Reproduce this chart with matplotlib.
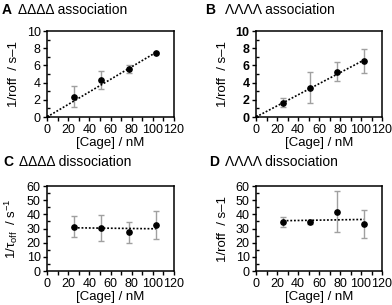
import matplotlib
matplotlib.use("Agg")
import matplotlib.pyplot as plt
from matplotlib.ticker import MultipleLocator

plt.rcParams['font.family'] = ['Liberation Sans', 'DejaVu Sans']
plt.rcParams['mathtext.fontset'] = 'custom'
plt.rcParams['mathtext.rm'] = 'Liberation Sans'
plt.rcParams['mathtext.it'] = 'Liberation Sans:italic'
plt.rcParams['mathtext.bf'] = 'Liberation Sans:bold'

# ---- data ----
conc = [25.7, 51.4, 77.1, 102.8]

a_y = [2.35, 4.28, 5.55, 7.48]
a_err = [1.2, 1.05, 0.45, 0.1]
a_trend_x = [0, 102.8]
a_trend_y = [0, 7.5]

b_y = [1.68, 3.42, 5.25, 6.5]
b_err = [0.5, 1.85, 1.1, 1.35]
b_trend_x = [0, 102.8]
b_trend_y = [0, 6.62]

c_y = [31.4, 30.4, 27.3, 32.5]
c_err = [7.3, 9.2, 7.5, 10.0]
c_trend_x = [25.7, 102.8]
c_trend_y = [30.5, 29.8]

d_y = [34.6, 34.5, 42.0, 33.2]
d_err = [3.3, 1.0, 14.2, 10.0]
d_trend_x = [25.7, 102.8]
d_trend_y = [35.5, 36.4]

xticks = [0, 20, 40, 60, 80, 100, 120]
assoc_yticks = [0, 2, 4, 6, 8, 10]
dissoc_yticks = [0, 10, 20, 30, 40, 50, 60]

W, H = 392, 305
fig = plt.figure(figsize=(W / 100, H / 100), dpi=100)

def ax_at(l, t, r, b):
    return fig.add_axes([l / W, 1 - b / H, (r - l) / W, (b - t) / H])

panels = [
    (ax_at(47, 31, 174, 117), a_y, a_err, a_trend_x, a_trend_y, assoc_yticks, 1,
     "1/roff  / s–1", False, True),
    (ax_at(256, 31, 382, 117), b_y, b_err, b_trend_x, b_trend_y, assoc_yticks, 1,
     "1/roff  / s–1", True, True),
    (ax_at(47, 186, 174, 271), c_y, c_err, c_trend_x, c_trend_y, dissoc_yticks, 5,
     r"1/τ$_{\mathrm{off}}$  / s$^{\mathrm{-1}}$", False, False),
    (ax_at(256, 186, 382, 271), d_y, d_err, d_trend_x, d_trend_y, dissoc_yticks, 5,
     "1/roff  / s–1", False, False),
]

for ax, y, err, tx, ty, yt, ymin, ylab, boldy, origin in panels:
    ax.errorbar(conc, y, yerr=err, fmt='none', ecolor='#a0a0a0', elinewidth=1.0,
                capsize=2.2, capthick=1.0, zorder=2)
    ax.plot(tx, ty, linestyle=(0, (1.1, 1.1)), color='black', linewidth=1.2, zorder=3)
    ax.plot(conc, y, 'o', color='black', markersize=3.8, zorder=4)
    if origin:
        ax.plot([tx[0]], [ty[0]], 'o', color='black', markersize=2.5, zorder=4)
    ax.set_xlim(0, 120)
    ax.set_ylim(yt[0], yt[-1])
    ax.set_xticks(xticks)
    ax.set_yticks(yt)
    ax.xaxis.set_minor_locator(MultipleLocator(10))
    ax.yaxis.set_minor_locator(MultipleLocator(ymin))
    ax.tick_params(axis='x', which='major', direction='out', length=3, width=1,
                   labelsize=9, pad=2)
    ax.tick_params(axis='x', which='minor', direction='out', length=3, width=1)
    ax.tick_params(axis='y', which='major', direction='out', length=3, width=1,
                   labelsize=9, pad=1.5)
    ax.tick_params(axis='y', which='minor', direction='in', length=2, width=1)
    if boldy:
        for lbl in ax.get_yticklabels():
            lbl.set_fontweight('bold')
    for sp in ax.spines.values():
        sp.set_linewidth(1.1)
    ax.set_xlabel("[Cage] / nM", fontsize=9.5, labelpad=0.5)
    ax.set_ylabel(ylab, fontsize=9.5, labelpad=5)

titles = [
    (2, 14, "A", 18, "ΔΔΔΔ association"),
    (205, 14, "B", 225, "ΛΛΛΛ association"),
    (3, 166, "C", 19, "ΔΔΔΔ dissociation"),
    (209, 166, "D", 225, "ΛΛΛΛ dissociation"),
]
for xl, yb, letter, xr, rest in titles:
    fig.text(xl / W, 1 - yb / H, letter, fontsize=10, fontweight='bold',
             ha='left', va='baseline')
    fig.text(xr / W, 1 - yb / H, rest, fontsize=10, ha='left', va='baseline')

fig.savefig("out.png", dpi=100)
